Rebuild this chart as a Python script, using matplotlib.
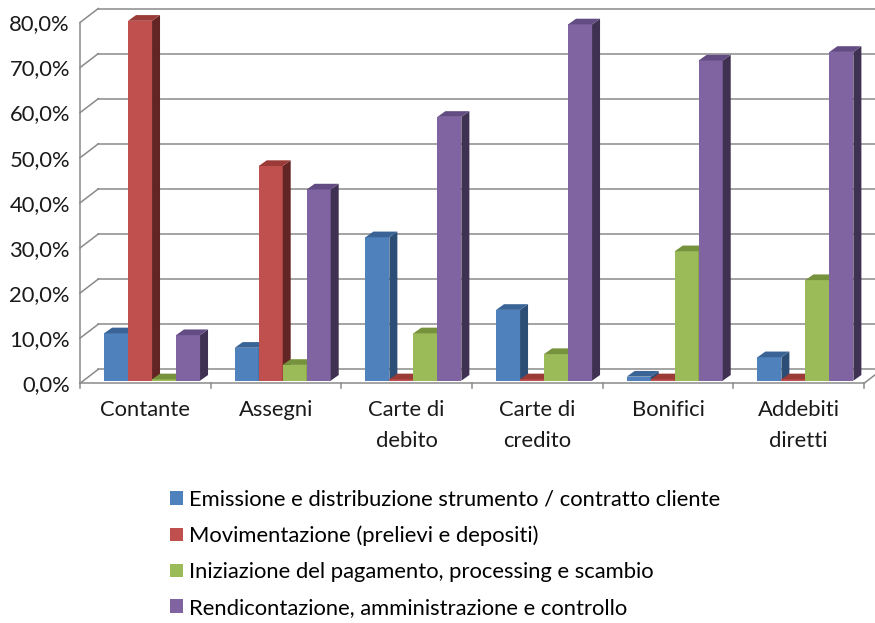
import numpy as np
import matplotlib.pyplot as plt
from matplotlib.patches import Polygon, Patch

# quota dei costi per fase di processo, per strumento di pagamento
categorie = ['Contante', 'Assegni', 'Carte di\ndebito', 'Carte di\ncredito',
             'Bonifici', 'Addebiti\ndiretti']
serie = ['Emissione e distribuzione strumento / contratto cliente',
         'Movimentazione (prelievi e depositi)',
         'Iniziazione del pagamento, processing e scambio',
         'Rendicontazione, amministrazione e controllo']
emissione = [10.5, 7.3, 31.8, 15.7, 0.9, 5.2]
movimentazione = [79.8, 47.6, 0.3, 0.3, 0.3, 0.3]
iniziazione = [0.3, 3.5, 10.5, 5.9, 28.7, 22.3]
rendicontazione = [10.1, 42.4, 58.5, 79.0, 71.0, 72.9]
yticks = np.arange(0, 81, 10)

fronte = ['#4F81BD', '#C0504D', '#9BBB59', '#8064A2']
lato = ['#2C4D75', '#632523', '#5F7530', '#3F3151']
cima = ['#3B6496', '#9A3B38', '#77923D', '#634C83']

plt.rcParams['font.family'] = ['Lato', 'DejaVu Sans']
FS = 15.8

W, H = 875, 623
fig = plt.figure(figsize=(W / 100, H / 100), dpi=100)

# pixel scale of the front plane
px_cat = 130.67   # px per category
px_pct = 4.51     # px per percent
y0 = 383.3        # front zero line, px from top
ax = fig.add_axes([80 / W, (H - y0) / H, (W - 80) / W, (y0 - 8.3) / H])
ax.set_xlim(-0.5, -0.5 + (W - 80) / px_cat)
ax.set_ylim(0, (y0 - 8.3) / px_pct)
ax.axis('off')

# depth of walls and bars (in data units)
wdx, wdy = 18.3 / px_cat, 14.0 / px_pct
bdx, bdy = 8.0 / px_cat, 5.7 / px_pct
base = 2.6 / px_pct
larg = 24.0 / px_cat
grid_c = '#8a8a8a'

xmin, xmax = ax.get_xlim()
for v in yticks:
    ax.plot([-0.5 + wdx, xmax + 1], [v + wdy, v + wdy], color=grid_c, lw=1.1,
            clip_on=False, zorder=1)
    ax.plot([-0.5, -0.5 + wdx], [v, v + wdy], color=grid_c, lw=1.1,
            clip_on=False, zorder=1)
    ax.text(-0.5 - 10 / px_cat, v - 0.4, f'{v:.1f}%'.replace('.', ','),
            ha='right', va='center', fontsize=FS, color='#1a1a1a')

# front axes
ax.plot([-0.5, -0.5], [0, 80], color=grid_c, lw=1.1, clip_on=False, zorder=1)
ax.plot([-0.5, 5.5], [0, 0], color=grid_c, lw=1.1, clip_on=False, zorder=1)
ax.plot([5.5, 5.5 + wdx], [0, wdy], color=grid_c, lw=1.1, clip_on=False, zorder=1)
for b in np.arange(-0.5, 6, 1):
    ax.plot([b, b], [0, -5 / px_pct], color=grid_c, lw=1.1, clip_on=False, zorder=1)

valori = [emissione, movimentazione, iniziazione, rendicontazione]
for j in range(len(categorie)):
    for i, serie_v in enumerate(valori):
        v = serie_v[j]
        x0 = j + (-41.3 + 24 * i) / px_cat
        x1 = x0 + larg
        b, t = base, base + v
        ax.add_patch(Polygon([(x0, b), (x1, b), (x1, t), (x0, t)],
                             closed=True, fc=fronte[i], ec='none', zorder=3))
        ax.add_patch(Polygon([(x1, b), (x1 + bdx, b + bdy), (x1 + bdx, t + bdy), (x1, t)],
                             closed=True, fc=lato[i], ec='none', zorder=3))
        ax.add_patch(Polygon([(x0, t), (x1, t), (x1 + bdx, t + bdy), (x0 + bdx, t + bdy)],
                             closed=True, fc=cima[i], ec='none', zorder=3))

for j, lab in enumerate(categorie):
    ax.text(j, -17 / px_pct, lab, ha='center', va='top', fontsize=FS,
            linespacing=1.65, color='#1a1a1a', clip_on=False)

handles = [Patch(fc=c, ec='none') for c in fronte]
fig.legend(handles, serie, loc='upper left', bbox_to_anchor=(170 / W, 1 - 490 / H),
           frameon=False, fontsize=FS, handlelength=0.57, handleheight=0.57,
           handletextpad=0.3, labelspacing=0.72, borderpad=0, borderaxespad=0)

fig.savefig('out.png', dpi=100)
